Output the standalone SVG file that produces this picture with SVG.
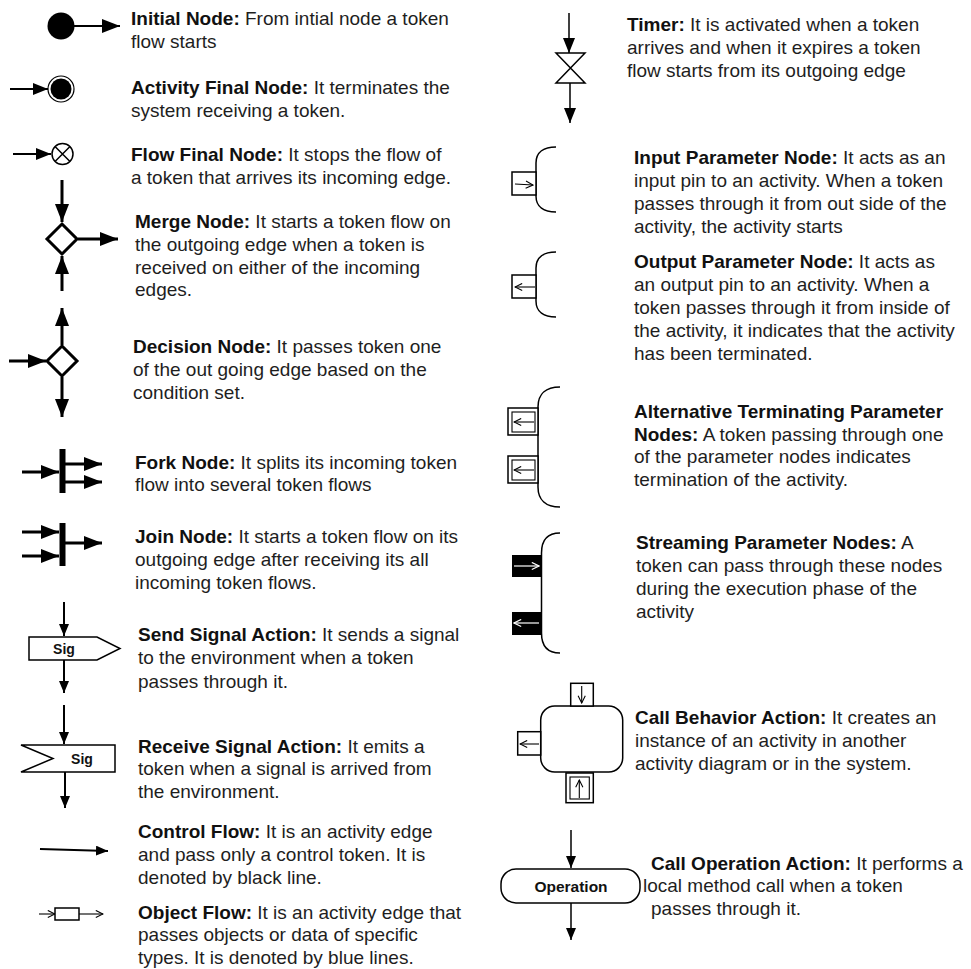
<svg xmlns="http://www.w3.org/2000/svg" width="971" height="969" viewBox="0 0 971 969">
<style>
text{font-family:"Liberation Sans",Arial,Helvetica,sans-serif;font-size:19px;fill:#1e1e1e}
.b{font-weight:bold;fill:#111}
.lbl{font-weight:bold;font-size:14px;text-anchor:middle;fill:#111}
.op{font-weight:bold;font-size:15.5px;text-anchor:middle;fill:#111}
.e3{stroke:#000;stroke-width:3;fill:none}
.e2{stroke:#000;stroke-width:2;fill:none}
.e15{stroke:#000;stroke-width:1.5;fill:none}
.e1{stroke:#000;stroke-width:1.1;fill:none}
.ew{stroke:#fff;stroke-width:1.2;fill:none}
.sh{stroke:#000;stroke-width:1.5;fill:#fff}
.sh3{stroke:#000;stroke-width:3;fill:#fff}
</style>
<defs>
<marker id="ahL" viewBox="0 0 18 14" refX="18" refY="7" markerWidth="18" markerHeight="14" markerUnits="userSpaceOnUse" orient="auto"><path d="M0,0 L18,7 L0,14 Z" fill="#000"/></marker>
<marker id="ahM" viewBox="0 0 15 12" refX="15" refY="6" markerWidth="15" markerHeight="12" markerUnits="userSpaceOnUse" orient="auto"><path d="M0,0 L15,6 L0,12 Z" fill="#000"/></marker>
<marker id="ahS" viewBox="0 0 12 10" refX="12" refY="5" markerWidth="12" markerHeight="10" markerUnits="userSpaceOnUse" orient="auto"><path d="M0,0 L12,5 L0,10 Z" fill="#000"/></marker>
<marker id="oa" viewBox="0 0 10 10" refX="9" refY="5" markerWidth="9" markerHeight="9" markerUnits="userSpaceOnUse" orient="auto"><path d="M1,1 L9,5 L1,9" fill="none" stroke="#000" stroke-width="1.2"/></marker>
<marker id="oaw" viewBox="0 0 10 10" refX="9" refY="5" markerWidth="9" markerHeight="9" markerUnits="userSpaceOnUse" orient="auto"><path d="M1,1 L9,5 L1,9" fill="none" stroke="#fff" stroke-width="1.3"/></marker>
</defs>
<rect width="971" height="969" fill="#fff"/>

<g id="connectors">
<line class="e2" x1="74" y1="26" x2="120" y2="26" marker-end="url(#ahL)"/>
<line class="e2" x1="10" y1="89" x2="48" y2="89" marker-end="url(#ahM)"/>
<line class="e2" x1="13" y1="154" x2="51" y2="154" marker-end="url(#ahM)"/>
<line class="e3" x1="62" y1="180" x2="62" y2="222" marker-end="url(#ahL)"/>
<line class="e3" x1="62" y1="291" x2="62" y2="256" marker-end="url(#ahL)"/>
<line class="e3" x1="78" y1="239" x2="118" y2="239" marker-end="url(#ahL)"/>
<line class="e3" x1="62" y1="345" x2="62" y2="308" marker-end="url(#ahL)"/>
<line class="e3" x1="9" y1="361" x2="46" y2="361" marker-end="url(#ahL)"/>
<line class="e3" x1="62" y1="377" x2="62" y2="417" marker-end="url(#ahL)"/>
<line class="e3" x1="22" y1="472" x2="59" y2="472" marker-end="url(#ahL)"/>
<line class="e3" x1="65" y1="464" x2="102" y2="464" marker-end="url(#ahL)"/>
<line class="e3" x1="65" y1="482" x2="102" y2="482" marker-end="url(#ahL)"/>
<line class="e3" x1="22" y1="532" x2="59" y2="532" marker-end="url(#ahL)"/>
<line class="e3" x1="22" y1="556" x2="59" y2="556" marker-end="url(#ahL)"/>
<line class="e3" x1="65" y1="543" x2="102" y2="543" marker-end="url(#ahL)"/>
<line class="e2" x1="64" y1="602" x2="64" y2="636" marker-end="url(#ahS)"/>
<line class="e2" x1="64" y1="660" x2="64" y2="693" marker-end="url(#ahS)"/>
<line class="e2" x1="64" y1="705" x2="64" y2="744" marker-end="url(#ahS)"/>
<line class="e2" x1="65" y1="772" x2="65" y2="808" marker-end="url(#ahS)"/>
<line class="e2" x1="40" y1="849" x2="108" y2="851" marker-end="url(#ahS)"/>
<line class="e1" x1="39" y1="914" x2="55" y2="914" marker-end="url(#oa)"/>
<line class="e1" x1="79" y1="914" x2="103" y2="914" marker-end="url(#oa)"/>
<line class="e15" x1="569" y1="13" x2="569" y2="53" marker-end="url(#ahM)"/>
<line class="e15" x1="570" y1="83" x2="570" y2="123" marker-end="url(#ahM)"/>
<line class="e15" x1="571" y1="830" x2="571" y2="868" marker-end="url(#ahS)"/>
<line class="e15" x1="571" y1="903" x2="571" y2="940" marker-end="url(#ahS)"/>
</g>

<g id="initial-node">
<circle cx="61" cy="26" r="13.5" fill="#000"/>
<text x="131" y="25"><tspan class="b">Initial Node:</tspan> From intial node a token</text>
<text x="131" y="48">flow starts</text>
</g>

<g id="activity-final-node">
<circle cx="61" cy="89" r="13" fill="#fff" stroke="#000" stroke-width="1.2"/>
<circle cx="61" cy="89" r="10.5" fill="#000"/>
<text x="131" y="94"><tspan class="b">Activity Final Node:</tspan> It terminates the</text>
<text x="131" y="117">system receiving a token.</text>
</g>

<g id="flow-final-node">
<circle cx="62.5" cy="154" r="10.5" class="sh"/>
<path class="e15" d="M55,146.5 L70,161.5 M70,146.5 L55,161.5"/>
<text x="131" y="161"><tspan class="b">Flow Final Node:</tspan> It stops the flow of</text>
<text x="131" y="184">a token that arrives its incoming edge.</text>
</g>

<g id="merge-node">
<polygon class="sh3" points="62,224 77,239 62,254 47,239"/>
<text x="135" y="228"><tspan class="b">Merge Node:</tspan> It starts a token flow on</text>
<text x="135" y="251">the outgoing edge when a token is</text>
<text x="135" y="274">received on either of the incoming</text>
<text x="135" y="296">edges.</text>
</g>

<g id="decision-node">
<polygon class="sh3" points="62,346 77,361 62,376 47,361"/>
<text x="133" y="353"><tspan class="b">Decision Node:</tspan> It passes token one</text>
<text x="133" y="376">of the out going edge based on the</text>
<text x="133" y="399">condition set.</text>
</g>

<g id="fork-node">
<rect x="59.5" y="449" width="6" height="44" fill="#000"/>
<text x="135" y="469"><tspan class="b">Fork Node:</tspan> It splits its incoming token</text>
<text x="135" y="491">flow into several token flows</text>
</g>

<g id="join-node">
<rect x="59.5" y="523" width="6" height="43" fill="#000"/>
<text x="135" y="543"><tspan class="b">Join Node:</tspan> It starts a token flow on its</text>
<text x="135" y="566">outgoing edge after receiving its all</text>
<text x="135" y="589">incoming token flows.</text>
</g>

<g id="send-signal-action">
<polygon class="sh" points="29,637 97,637 120,648.5 97,660 29,660"/>
<text class="lbl" x="64" y="653.5">Sig</text>
<text x="138" y="641"><tspan class="b">Send Signal Action:</tspan> It sends a signal</text>
<text x="138" y="664">to the environment when a token</text>
<text x="138" y="688">passes through it.</text>
</g>

<g id="receive-signal-action">
<polygon class="sh" points="21,745 115,745 115,772 21,772 53,758.5"/>
<text class="lbl" x="82" y="763.5">Sig</text>
<text x="138" y="753"><tspan class="b">Receive Signal Action:</tspan> It emits a</text>
<text x="138" y="775">token when a signal is arrived from</text>
<text x="138" y="798">the environment.</text>
</g>

<g id="control-flow">
<text x="138" y="838"><tspan class="b">Control Flow:</tspan> It is an activity edge</text>
<text x="138" y="861">and pass only a control token. It is</text>
<text x="138" y="884">denoted by black line.</text>
</g>

<g id="object-flow">
<rect x="55" y="908" width="24" height="12" class="sh"/>
<text x="138" y="919"><tspan class="b">Object Flow:</tspan> It is an activity edge that</text>
<text x="138" y="941">passes objects or data of specific</text>
<text x="138" y="964">types. It is denoted by blue lines.</text>
</g>

<g id="timer">
<path class="sh" d="M556,53 L585,53 L556,83 L585,83 Z"/>
<text x="627" y="31"><tspan class="b">Timer:</tspan> It is activated when a token</text>
<text x="627" y="54">arrives and when it expires a token</text>
<text x="627" y="77">flow starts from its outgoing edge</text>
</g>

<g id="input-parameter-node">
<path class="e15" d="M556,147 C544,147 536,152 536,163 L536,196 C536,207 544,212 556,212"/>
<rect x="512" y="172" width="24" height="23" class="sh"/>
<line class="e1" x1="515" y1="184" x2="533" y2="185" marker-end="url(#oa)"/>
<text x="634" y="164"><tspan class="b">Input Parameter Node:</tspan> It acts as an</text>
<text x="634" y="187">input pin to an activity. When a token</text>
<text x="634" y="210">passes through it from out side of the</text>
<text x="634" y="233">activity, the activity starts</text>
</g>

<g id="output-parameter-node">
<path class="e15" d="M556,252 C544,252 536,257 536,268 L536,301 C536,312 544,317 556,317"/>
<rect x="512" y="275" width="24" height="23" class="sh"/>
<line class="e1" x1="535" y1="287" x2="515" y2="287" marker-end="url(#oa)"/>
<text x="634" y="268"><tspan class="b">Output Parameter Node:</tspan> It acts as</text>
<text x="634" y="291">an output pin to an activity. When a</text>
<text x="634" y="314">token passes through it from inside of</text>
<text x="634" y="337">the activity, it indicates that the activity</text>
<text x="634" y="360">has been terminated.</text>
</g>

<g id="alternative-terminating-parameter-nodes">
<path class="e15" d="M560,387 C546,387 538,394 538,407 L538,487 C538,500 546,507 560,507"/>
<rect x="508" y="408" width="30" height="27" class="sh"/>
<rect x="512" y="412" width="23" height="20" class="e1"/>
<line class="e1" x1="534" y1="422" x2="514" y2="422" marker-end="url(#oa)"/>
<rect x="508" y="456" width="30" height="27" class="sh"/>
<rect x="512" y="460" width="23" height="20" class="e1"/>
<line class="e1" x1="534" y1="470" x2="514" y2="470" marker-end="url(#oa)"/>
<text x="634" y="418" class="b">Alternative Terminating Parameter</text>
<text x="634" y="441"><tspan class="b">Nodes:</tspan> A token passing through one</text>
<text x="634" y="463">of the parameter nodes indicates</text>
<text x="634" y="486">termination of the activity.</text>
</g>

<g id="streaming-parameter-nodes">
<path class="e15" d="M560,533 C548,533 541.5,540 541.5,553 L541.5,633 C541.5,646 548,653 560,653"/>
<rect x="512" y="555" width="29" height="22" fill="#000"/>
<line class="ew" x1="514" y1="566" x2="539" y2="566" marker-end="url(#oaw)"/>
<rect x="512" y="612" width="29" height="23" fill="#000"/>
<line class="ew" x1="539" y1="623" x2="514" y2="623" marker-end="url(#oaw)"/>
<text x="636" y="549"><tspan class="b">Streaming Parameter Nodes:</tspan> A</text>
<text x="636" y="572">token can pass through these nodes</text>
<text x="636" y="595">during the execution phase of the</text>
<text x="636" y="618">activity</text>
</g>

<g id="call-behavior-action">
<rect x="540.7" y="706" width="82" height="66" rx="14" class="sh"/>
<rect x="570.7" y="683.3" width="22.6" height="22.7" class="sh"/>
<line class="e1" x1="581.7" y1="686" x2="581.7" y2="703" marker-end="url(#oa)"/>
<rect x="517.7" y="731.7" width="23" height="23.3" class="sh"/>
<line class="e1" x1="539" y1="744" x2="520" y2="744" marker-end="url(#oa)"/>
<rect x="566" y="773" width="27.3" height="29.7" class="sh"/>
<rect x="570" y="777" width="19.3" height="22" class="e1"/>
<line class="e1" x1="579.3" y1="798" x2="579.3" y2="780" marker-end="url(#oa)"/>
<text x="635" y="724"><tspan class="b">Call Behavior Action:</tspan> It creates an</text>
<text x="635" y="747">instance of an activity in another</text>
<text x="635" y="770">activity diagram or in the system.</text>
</g>

<g id="call-operation-action">
<rect x="501" y="869" width="139" height="34" rx="15" class="sh"/>
<text class="op" x="571" y="891.5">Operation</text>
<text x="651" y="870"><tspan class="b">Call Operation Action:</tspan> It performs a</text>
<text x="643" y="892">local method call when a token</text>
<text x="651" y="915">passes through it.</text>
</g>
</svg>
